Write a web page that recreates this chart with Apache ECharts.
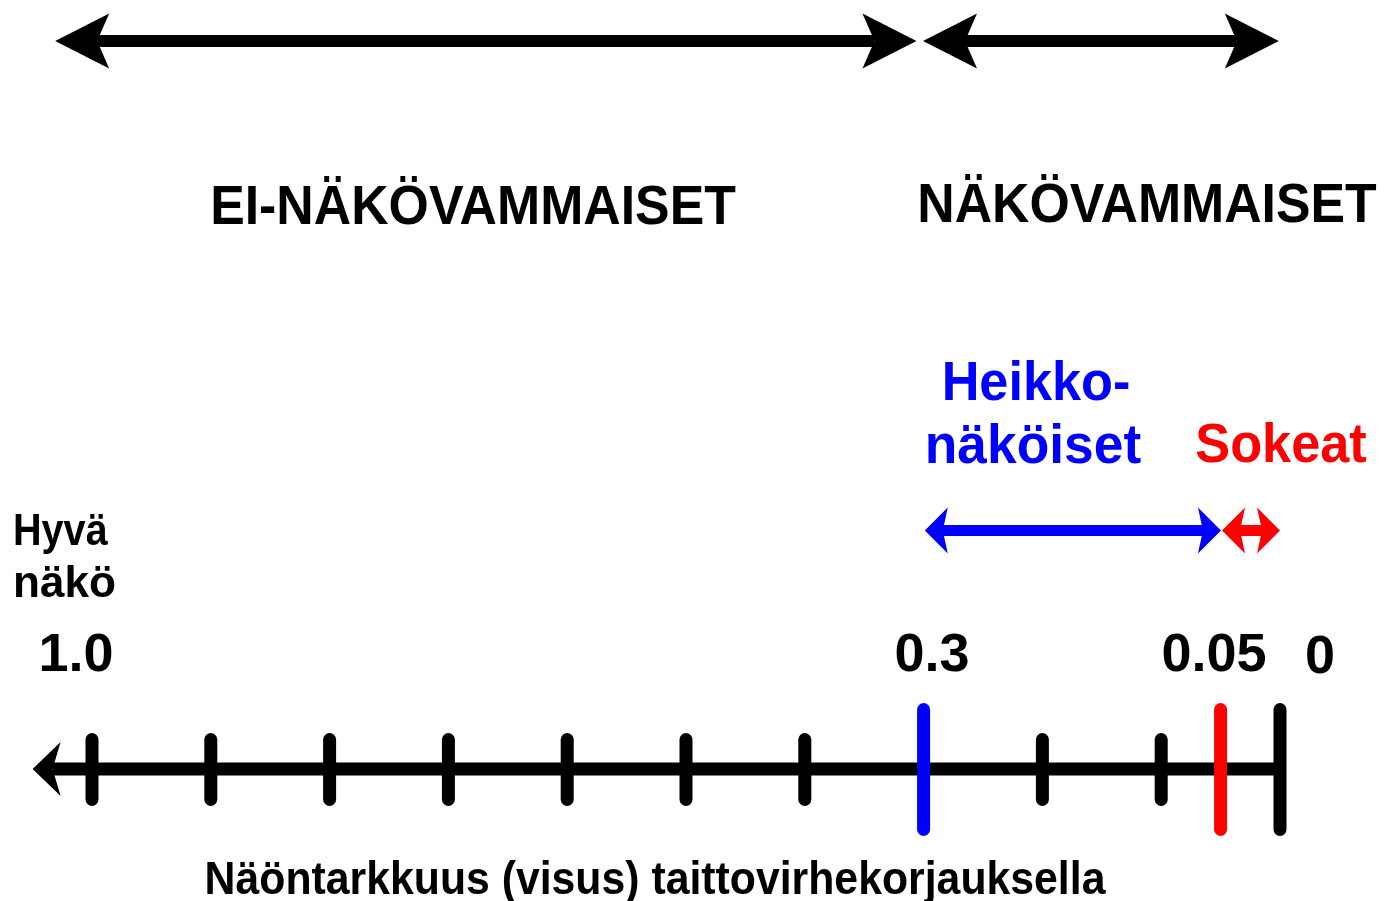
<!DOCTYPE html>
<html><head><meta charset="utf-8">
<script src="https://cdn.jsdelivr.net/npm/echarts/dist/echarts.min.js"></script>
<style>html,body{margin:0;padding:0;background:#fff}#c{width:1384px;height:901px}</style>
</head><body><div id="c"></div>
<script>
// ---- data (visus values on an inverted linear scale) ----
const minorTicks = [1.0, 0.9, 0.8, 0.7, 0.6, 0.5, 0.4, 0.2, 0.1];
const limitTicks = [0.3, 0.05, 0];
const tickLabels = ['1.0', '0.3', '0.05', '0'];
const groupSpans = [[1.031, 0.306], [0.3005, 0.001]];
const groupNames = ['EI-NÄKÖVAMMAISET', 'NÄKÖVAMMAISET'];
const classSpans = [[0.299, 0.0497], [0.0488, 0]];
const classNames = ['Heikko-', 'näköiset', 'Sokeat'];
const scaleSpan = [[1.05, 0]];
const endLabels = ['Hyvä', 'näkö'];
const axisTitle = 'Näöntarkkuus (visus) taittovirhekorjauksella';

// ---- styles ----
const BLACK = '#000000', BLUE = '#0000ff', RED = '#ff0000';
const FONT = '"Liberation Sans", Arial, sans-serif';
const ROW_TOP = 41, ROW_CLASS = 530.5, ROW_AXIS = 769;

function arrowSeries(spans, yLevel, colors, head, lw, both) {
  return {
    type: 'custom', coordinateSystem: 'cartesian2d', silent: true,
    data: spans.map(s => [s[0], s[1], yLevel]),
    encode: { x: [0, 1], y: 2 },
    renderItem: function (params, api) {
      const a = api.coord([api.value(0), api.value(2)]);
      const b = api.coord([api.value(1), api.value(2)]);
      const left = Math.min(a[0], b[0]), right = Math.max(a[0], b[0]), y = a[1];
      const col = colors[params.dataIndex % colors.length];
      const L = head.len, H = head.hw, N = head.len - head.notch;
      const children = [
        { type: 'polygon', shape: { points: [[left, y], [left + L, y - H], [left + N, y], [left + L, y + H]] }, style: { fill: col } }
      ];
      const rx = left + N;
      const rEnd = both ? right - N : right;
      children.unshift({ type: 'rect', shape: { x: rx, y: y - lw / 2, width: Math.max(0, rEnd - rx), height: lw }, style: { fill: col } });
      if (both) {
        children.push({ type: 'polygon', shape: { points: [[right, y], [right - L, y - H], [right - N, y], [right - L, y + H]] }, style: { fill: col } });
      }
      return { type: 'group', children: children };
    }
  };
}

function tickSeries(values, colors, y0, y1, w) {
  return {
    type: 'custom', coordinateSystem: 'cartesian2d', silent: true,
    data: values.map(v => [v, ROW_AXIS]),
    encode: { x: 0, y: 1 },
    renderItem: function (params, api) {
      const p = api.coord([api.value(0), api.value(1)]);
      return {
        type: 'line',
        shape: { x1: p[0], y1: y0, x2: p[0], y2: y1 },
        style: { stroke: colors[params.dataIndex % colors.length], lineWidth: w, lineCap: 'round' }
      };
    }
  };
}

function txt(text, x, y, size, color, sx, align) {
  return {
    type: 'text', x: x, y: y, scaleX: sx || 1, silent: true,
    style: {
      text: text, fill: color, font: 'bold ' + size + 'px ' + FONT,
      align: align || 'center', verticalAlign: 'middle',
      textAlign: align || 'center', textVerticalAlign: 'middle'
    }
  };
}

const chart = echarts.init(document.getElementById('c'), null, { renderer: 'canvas' });
chart.setOption({
  backgroundColor: '#ffffff',
  animation: false,
  grid: { left: 92, right: 104, top: 0, bottom: 0, containLabel: false },
  xAxis: { type: 'value', min: 0, max: 1, inverse: true, show: false },
  yAxis: { type: 'value', min: 0, max: 901, inverse: true, show: false },
  series: [
    arrowSeries(groupSpans, ROW_TOP, [BLACK], { len: 54, hw: 27.5, notch: 12 }, 12, true),
    arrowSeries(classSpans, ROW_CLASS, [BLUE, RED], { len: 23, hw: 23, notch: 5 }, 11, true),
    arrowSeries(scaleSpan, ROW_AXIS, [BLACK], { len: 28, hw: 27, notch: 8 }, 13, false),
    tickSeries(minorTicks, [BLACK], 739.5, 799.5, 13),
    tickSeries(limitTicks, [BLUE, RED, BLACK], 709.5, 829.5, 13)
  ],
  graphic: [
    txt(groupNames[0], 473, 209, 56, BLACK, 0.925),
    txt(groupNames[1], 1147, 207, 56, BLACK, 0.925),
    txt(classNames[0], 1036, 385, 55, BLUE, 0.95),
    txt(classNames[1], 1033, 448, 55, BLUE, 0.97),
    txt(classNames[2], 1281, 447, 55, RED, 0.95),
    txt(endLabels[0], 13, 533, 45, BLACK, 0.88, 'left'),
    txt(endLabels[1], 13, 585, 45, BLACK, 0.98, 'left'),
    txt(tickLabels[0], 76, 656, 54, BLACK, 1),
    txt(tickLabels[1], 932, 656, 54, BLACK, 1),
    txt(tickLabels[2], 1214, 656, 54, BLACK, 1),
    txt(tickLabels[3], 1320, 658, 54, BLACK, 1),
    txt(axisTitle, 655, 881, 47, BLACK, 0.91)
  ]
});
</script>
</body></html>
